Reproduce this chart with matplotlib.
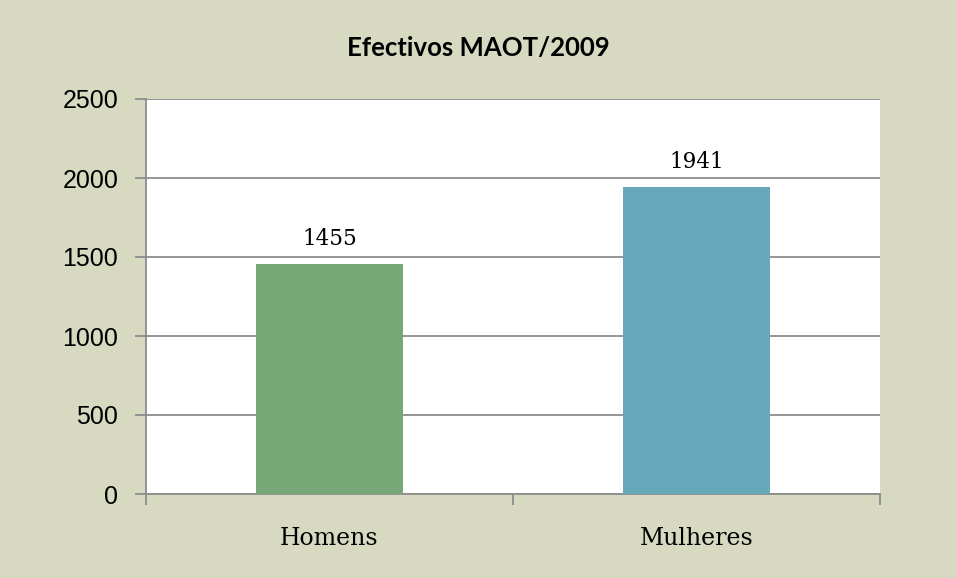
import matplotlib
matplotlib.use("Agg")
import matplotlib.pyplot as plt

categories = ["Homens", "Mulheres"]
values = [1455, 1941]
colors = ["#77A877", "#67A8BA"]
yticks = [0, 500, 1000, 1500, 2000, 2500]
title = "Efectivos MAOT/2009"

bg = "#D8D9C1"
fig = plt.figure(figsize=(9.56, 5.78), dpi=100, facecolor=bg)
ax = fig.add_axes([146/956, 1-494/578, (880-146)/956, (494-99)/578])
ax.set_facecolor("white")

x = range(len(categories))
ax.bar(x, values, width=0.4, color=colors, zorder=3)
ax.set_xlim(-0.5, len(categories)-0.5)
ax.set_ylim(0, 2500)
ax.set_yticks(yticks)
ax.set_yticklabels([str(t) for t in yticks], fontsize=18, family="Liberation Sans")
ax.yaxis.grid(True, color="#8C8C8C", linewidth=1.3, zorder=0)
ax.set_axisbelow(True)

ax.set_xticks([-0.5, 0.5, 1.5])
ax.set_xticklabels([])
ax.set_xticks(list(x), minor=True)
ax.set_xticklabels(categories, minor=True, fontsize=17, family="DejaVu Serif")
ax.tick_params(axis="x", which="minor", length=0, pad=24)
ax.tick_params(axis="x", which="major", length=8, width=1.3, color="#8C8C8C")
ax.tick_params(axis="y", length=8, width=1.3, color="#8C8C8C", pad=12)

for s in ["top", "right"]:
    ax.spines[s].set_visible(False)
for s in ["left", "bottom"]:
    ax.spines[s].set_color("#8C8C8C")
    ax.spines[s].set_linewidth(1.3)

for xi, v in zip(x, values):
    ax.annotate(str(v), (xi, v), xytext=(0, 10), textcoords="offset points",
                ha="center", va="bottom", fontsize=15.5, family="DejaVu Serif")

fig.text(0.5, 1-48/578, title, ha="center", va="center", fontsize=18.5,
         fontweight="bold", family="Lato")

fig.savefig("out.png", dpi=100, facecolor=bg)
